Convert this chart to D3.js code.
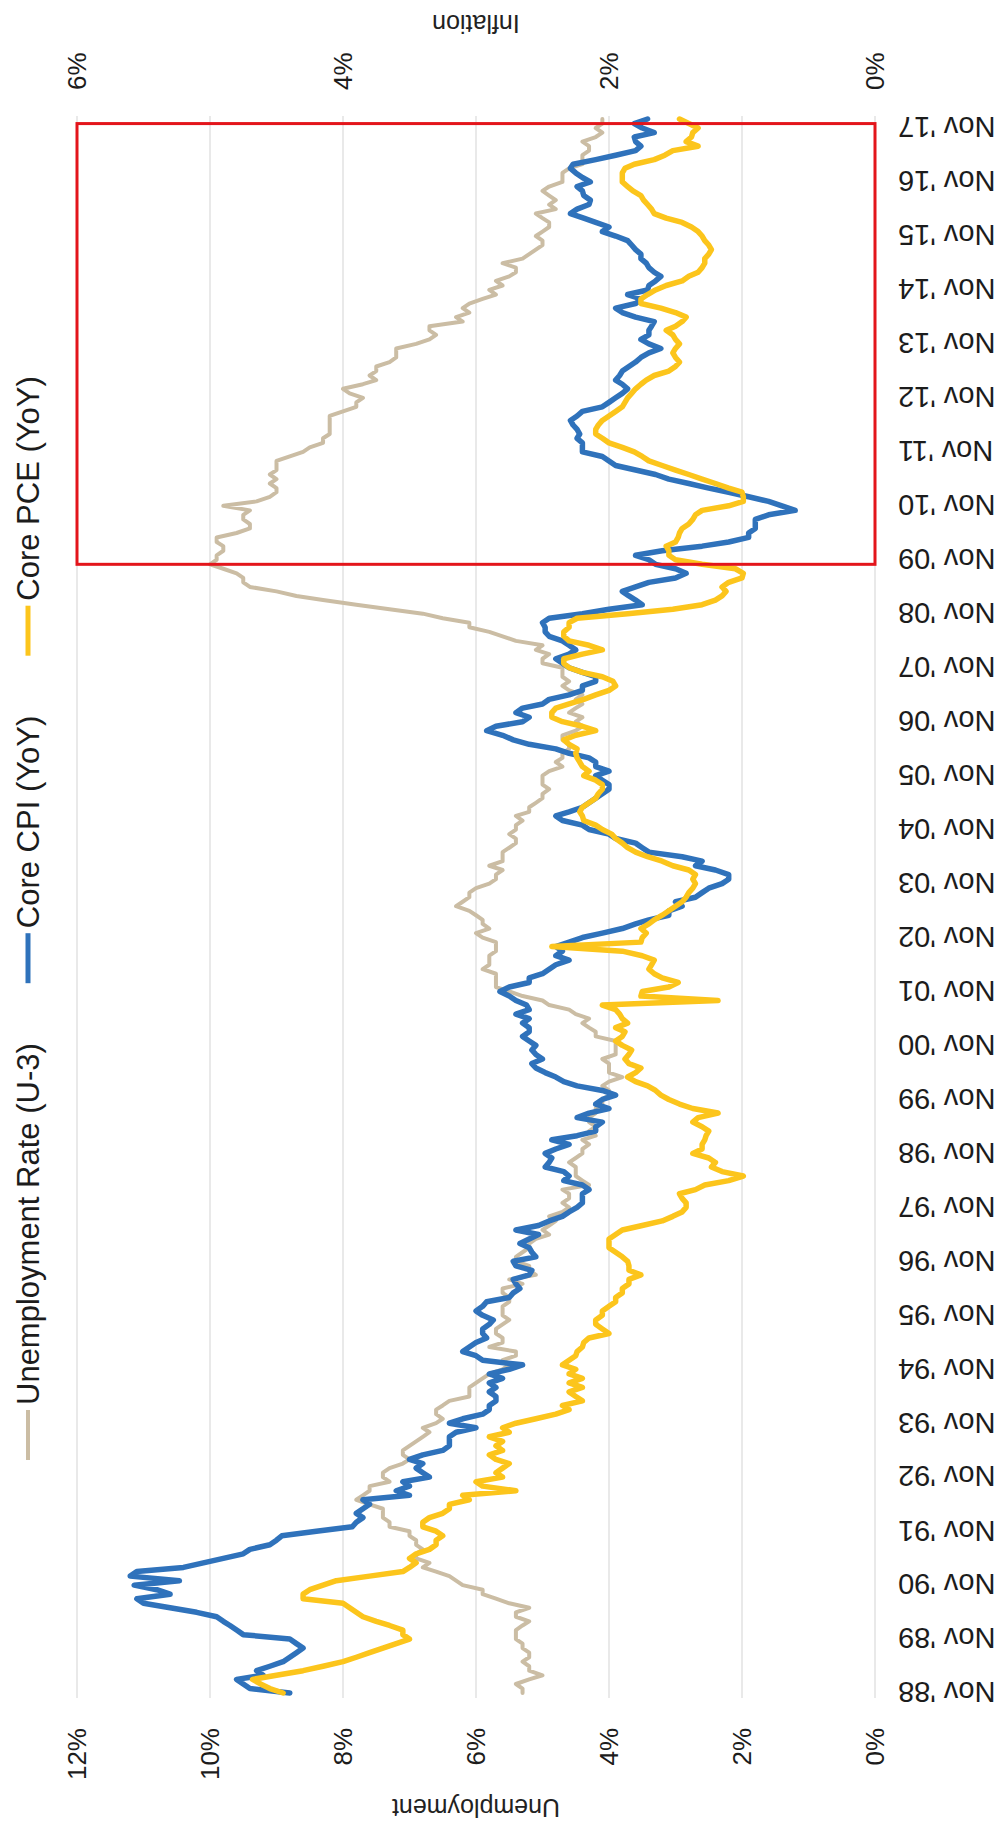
<!DOCTYPE html>
<html>
<head>
<meta charset="utf-8">
<script src="https://cdn.jsdelivr.net/npm/d3@7"></script>
<style>
  html, body { margin: 0; padding: 0; background: #fff; }
  svg { display: block; font-family: "Liberation Sans", Arial, Helvetica, sans-serif; }
</style>
</head>
<body>
<div id="chart"></div>
<script>
// monthly values, first point Nov 1988, last point Jan 2018
const firstMonth = new Date(1988, 10, 1);

const unemployment = [
  5.3, 5.3,
  5.4, 5.2, 5.0, 5.2, 5.2, 5.3, 5.2, 5.2, 5.3, 5.3, 5.4, 5.4,
  5.4, 5.3, 5.2, 5.4, 5.4, 5.2, 5.5, 5.7, 5.9, 5.9, 6.2, 6.3,
  6.4, 6.6, 6.8, 6.7, 6.9, 6.9, 6.8, 6.9, 6.9, 7.0, 7.0, 7.3,
  7.3, 7.4, 7.4, 7.4, 7.6, 7.8, 7.7, 7.6, 7.6, 7.3, 7.4, 7.4,
  7.3, 7.1, 7.0, 7.1, 7.1, 7.0, 6.9, 6.8, 6.7, 6.8, 6.6, 6.5,
  6.6, 6.6, 6.5, 6.4, 6.1, 6.1, 6.1, 6.0, 5.9, 5.8, 5.6, 5.5,
  5.6, 5.4, 5.4, 5.8, 5.6, 5.6, 5.7, 5.7, 5.6, 5.5, 5.6, 5.6,
  5.6, 5.5, 5.5, 5.6, 5.6, 5.3, 5.5, 5.1, 5.2, 5.2, 5.4, 5.4,
  5.3, 5.2, 5.2, 5.1, 4.9, 5.0, 4.9, 4.8, 4.9, 4.7, 4.6, 4.7,
  4.6, 4.6, 4.7, 4.3, 4.4, 4.5, 4.5, 4.5, 4.6, 4.5, 4.4, 4.4,
  4.3, 4.4, 4.2, 4.3, 4.2, 4.3, 4.3, 4.2, 4.2, 4.1, 4.1, 4.0,
  4.0, 4.1, 4.0, 3.8, 4.0, 4.0, 4.0, 4.1, 3.9, 3.9, 3.9, 3.9,
  4.2, 4.2, 4.3, 4.4, 4.3, 4.5, 4.6, 4.9, 5.0, 5.3, 5.5, 5.7,
  5.7, 5.7, 5.7, 5.9, 5.8, 5.8, 5.8, 5.7, 5.7, 5.7, 5.9, 6.0,
  5.8, 5.9, 5.9, 6.0, 6.1, 6.3, 6.2, 6.1, 6.1, 6.0, 5.8, 5.7,
  5.7, 5.6, 5.8, 5.6, 5.6, 5.6, 5.5, 5.4, 5.4, 5.5, 5.4, 5.4,
  5.3, 5.4, 5.2, 5.2, 5.1, 5.0, 5.0, 4.9, 5.0, 5.0, 5.0, 4.9,
  4.7, 4.8, 4.7, 4.7, 4.6, 4.6, 4.7, 4.7, 4.5, 4.4, 4.5, 4.4,
  4.6, 4.5, 4.4, 4.5, 4.4, 4.6, 4.7, 4.6, 4.7, 4.7, 4.7, 5.0,
  5.0, 4.9, 5.1, 5.0, 5.4, 5.6, 5.8, 6.1, 6.1, 6.5, 6.8, 7.3,
  7.8, 8.3, 8.7, 9.0, 9.4, 9.5, 9.5, 9.6, 9.8, 10.0, 9.9, 9.9,
  9.8, 9.8, 9.9, 9.9, 9.6, 9.4, 9.4, 9.5, 9.5, 9.4, 9.8, 9.3,
  9.1, 9.0, 9.0, 9.1, 9.0, 9.1, 9.0, 9.0, 9.0, 8.8, 8.6, 8.5,
  8.3, 8.3, 8.2, 8.2, 8.2, 8.2, 8.2, 8.0, 7.8, 7.8, 7.7, 7.9,
  8.0, 7.7, 7.5, 7.6, 7.5, 7.5, 7.3, 7.2, 7.2, 7.2, 6.9, 6.7,
  6.6, 6.7, 6.7, 6.2, 6.3, 6.1, 6.2, 6.1, 5.9, 5.7, 5.8, 5.6,
  5.7, 5.5, 5.4, 5.4, 5.6, 5.3, 5.2, 5.1, 5.0, 5.0, 5.1, 5.0,
  4.9, 4.9, 5.0, 5.1, 4.8, 4.9, 4.8, 4.9, 5.0, 4.9, 4.7, 4.7,
  4.7, 4.6, 4.4, 4.4, 4.4, 4.3, 4.3, 4.4, 4.2, 4.1, 4.2, 4.1,
  4.1
];

const coreCpi = [
  4.4, 4.7,
  4.75, 4.8, 4.6, 4.65, 4.55, 4.45, 4.4, 4.35, 4.3, 4.35, 4.4, 4.75,
  4.8, 4.85, 4.9, 4.95, 5.1, 5.3, 5.5, 5.55, 5.3, 5.4, 5.57, 5.23,
  5.6, 5.55, 5.2, 5.05, 4.9, 4.75, 4.7, 4.55, 4.5, 4.46, 4.2, 3.93,
  3.9, 3.85, 3.9, 3.85, 3.8, 3.85, 3.5, 3.6, 3.5, 3.55, 3.35, 3.4,
  3.45, 3.4, 3.5, 3.4, 3.25, 3.2, 3.2, 3.2, 3.15, 3.0, 3.2, 3.1,
  2.95, 2.9, 2.9, 2.85, 2.85, 2.9, 2.85, 2.9, 2.8, 2.9, 2.75, 2.65,
  2.95, 3.0, 3.1, 3.05, 3.0, 2.92, 2.95, 2.95, 2.9, 2.87, 2.95, 3.0,
  2.95, 2.92, 2.75, 2.72, 2.67, 2.7, 2.72, 2.6, 2.58, 2.7, 2.72, 2.55,
  2.58, 2.6, 2.67, 2.6, 2.53, 2.7, 2.53, 2.45, 2.35, 2.3, 2.24, 2.2,
  2.2, 2.2, 2.15, 2.2, 2.34, 2.3, 2.34, 2.48, 2.45, 2.43, 2.48, 2.4,
  2.3, 2.43, 2.24, 2.1, 2.1, 2.05, 2.24, 2.15, 2.0, 2.1, 2.05, 1.95,
  2.05, 2.24, 2.34, 2.4, 2.48, 2.55, 2.58, 2.5, 2.55, 2.58, 2.55, 2.6,
  2.65, 2.6, 2.6, 2.65, 2.6, 2.7, 2.6, 2.62, 2.7, 2.75, 2.82, 2.75,
  2.6, 2.6, 2.5, 2.45, 2.4, 2.3, 2.4, 2.35, 2.4, 2.3, 2.2, 2.05,
  1.9, 1.8, 1.7, 1.55, 1.55, 1.45, 1.5, 1.35, 1.3, 1.25, 1.15, 1.1,
  1.1, 1.2, 1.35, 1.3, 1.45, 1.7, 1.75, 1.8, 1.95, 2.0, 2.15, 2.2,
  2.35, 2.4, 2.3, 2.2, 2.15, 2.1, 2.05, 2.0, 2.0, 2.05, 2.1, 2.0,
  2.1, 2.1, 2.15, 2.3, 2.4, 2.6, 2.72, 2.8, 2.92, 2.85, 2.65, 2.6,
  2.7, 2.65, 2.5, 2.45, 2.3, 2.2, 2.2, 2.1, 2.1, 2.2, 2.3, 2.35,
  2.4, 2.3, 2.25, 2.3, 2.35, 2.45, 2.48, 2.48, 2.5, 2.45, 2.2, 2.0,
  1.75, 1.8, 1.85, 1.9, 1.8, 1.7, 1.5, 1.42, 1.5, 1.65, 1.7, 1.8,
  1.6, 1.3, 1.1, 0.95, 0.95, 0.9, 0.9, 0.9, 0.8, 0.6, 0.7, 0.8,
  0.95, 1.1, 1.25, 1.4, 1.55, 1.65, 1.8, 1.95, 2.0, 2.05, 2.2, 2.2,
  2.2, 2.24, 2.22, 2.24, 2.27, 2.29, 2.24, 2.2, 2.05, 2.0, 1.95, 1.9,
  1.86, 1.9, 1.95, 1.92, 1.9, 1.85, 1.8, 1.76, 1.7, 1.61, 1.7, 1.76,
  1.7, 1.7, 1.68, 1.66, 1.8, 1.9, 1.95, 1.8, 1.76, 1.86, 1.71, 1.7,
  1.65, 1.61, 1.66, 1.7, 1.72, 1.76, 1.76, 1.8, 1.83, 1.86, 1.95, 2.05,
  2.0, 2.1, 2.19, 2.29, 2.24, 2.15, 2.14, 2.19, 2.2, 2.24, 2.14, 2.2,
  2.25, 2.29, 2.27, 2.1, 1.95, 1.8, 1.76, 1.8, 1.81, 1.66, 1.75, 1.81,
  1.71
];

const corePce = [
  4.45, 4.55,
  4.62, 4.68, 4.5, 4.3, 4.15, 4.0, 3.9, 3.8, 3.7, 3.6, 3.5, 3.55,
  3.55, 3.65, 3.75, 3.85, 3.9, 3.95, 4.0, 4.3, 4.3, 4.25, 4.15, 4.05,
  3.8, 3.55, 3.5, 3.45, 3.5, 3.45, 3.35, 3.3, 3.3, 3.25, 3.3, 3.4,
  3.4, 3.35, 3.25, 3.2, 3.2, 3.05, 3.1, 2.7, 2.95, 3.0, 2.8, 2.85,
  2.8, 2.75, 2.85, 2.9, 2.8, 2.85, 2.8, 2.9, 2.75, 2.8, 2.7, 2.55,
  2.4, 2.3, 2.35, 2.2, 2.25, 2.3, 2.2, 2.3, 2.2, 2.3, 2.25, 2.35,
  2.3, 2.25, 2.24, 2.2, 2.19, 2.15, 2.0, 2.05, 2.1, 2.1, 2.05, 2.05,
  2.0, 1.95, 1.95, 1.9, 1.9, 1.85, 1.85, 1.76, 1.85, 1.85, 1.86, 1.9,
  1.95, 2.0, 2.0, 2.0, 1.95, 1.9, 1.75, 1.6, 1.52, 1.45, 1.42, 1.42,
  1.45, 1.47, 1.35, 1.28, 1.1, 0.99, 1.15, 1.23, 1.2, 1.25, 1.37, 1.3,
  1.3, 1.28, 1.27, 1.25, 1.3, 1.37, 1.33, 1.18, 1.37, 1.47, 1.55, 1.61,
  1.65, 1.71, 1.8, 1.86, 1.8, 1.76, 1.85, 1.88, 1.85, 1.83, 1.9, 1.95,
  1.9, 1.88, 1.95, 1.86, 1.9, 1.92, 1.95, 2.05, 1.18, 1.76, 1.75, 1.55,
  1.48, 1.6, 1.66, 1.7, 1.68, 1.66, 1.75, 1.9, 2.43, 1.76, 1.75, 1.72,
  1.76, 1.7, 1.66, 1.6, 1.55, 1.5, 1.45, 1.42, 1.4, 1.37, 1.35, 1.37,
  1.35, 1.4, 1.52, 1.6, 1.71, 1.8, 1.86, 1.9, 1.95, 1.98, 2.05, 2.1,
  2.19, 2.2, 2.22, 2.2, 2.15, 2.1, 2.08, 2.05, 2.05, 2.1, 2.19, 2.15,
  2.2, 2.22, 2.24, 2.25, 2.24, 2.3, 2.34, 2.25, 2.1, 2.2, 2.35, 2.43,
  2.43, 2.4, 2.3, 2.19, 2.1, 2.0, 1.95, 1.97, 2.05, 2.2, 2.3, 2.34,
  2.34, 2.2, 2.05, 2.15, 2.3, 2.34, 2.34, 2.3, 2.3, 2.24, 1.86, 1.52,
  1.3, 1.2, 1.15, 1.12, 1.15, 1.1, 1.0, 0.99, 1.05, 1.3, 1.5, 1.55,
  1.55, 1.57, 1.5, 1.48, 1.47, 1.45, 1.4, 1.37, 1.35, 1.3, 1.1, 0.99,
  0.99, 1.0, 1.1, 1.2, 1.3, 1.4, 1.5, 1.6, 1.7, 1.75, 1.81, 1.9,
  2.0, 2.05, 2.1, 2.1, 2.08, 2.05, 2.0, 1.95, 1.9, 1.88, 1.86, 1.83,
  1.8, 1.76, 1.72, 1.66, 1.55, 1.5, 1.47, 1.5, 1.52, 1.5, 1.47, 1.5,
  1.52, 1.57, 1.5, 1.45, 1.42, 1.5, 1.61, 1.76, 1.76, 1.71, 1.65, 1.57,
  1.45, 1.4, 1.33, 1.3, 1.28, 1.28, 1.25, 1.23, 1.25, 1.28, 1.3, 1.33,
  1.38, 1.45, 1.57, 1.66, 1.68, 1.71, 1.74, 1.76, 1.82, 1.86, 1.9, 1.9,
  1.9, 1.88, 1.81, 1.66, 1.58, 1.52, 1.33, 1.42, 1.38, 1.37, 1.33, 1.4,
  1.47
];

const seriesNames = ["Unemployment Rate (U-3)", "Core CPI (YoY)", "Core PCE (YoY)"];
const seriesColors = ["#cbbda4", "#2f72bb", "#fcc51c"];
const tickYears = [1988, 1989, 1990, 1991, 1992, 1993, 1994, 1995, 1996, 1997,
  1998, 1999, 2000, 2001, 2002, 2003, 2004, 2005, 2006, 2007,
  2008, 2009, 2010, 2011, 2012, 2013, 2014, 2015, 2016, 2017];
const unempTicks = [0, 2, 4, 6, 8, 10, 12];
const inflTicks = [0, 2, 4, 6];
const highlightRange = [new Date(2009, 9, 1), new Date(2017, 11, 1)];

// the chart is laid out landscape and then turned a quarter turn
const W = 1832, H = 1005;
const plot = { left: 134, right: 1716, top: 77, bottom: 875 };

const svg = d3.select("#chart").append("svg")
  .attr("width", H)
  .attr("height", W);

svg.append("rect").attr("width", H).attr("height", W).attr("fill", "#fff");

const g = svg.append("g")
  .attr("transform", `translate(0,${W}) rotate(-90)`);

const monthDate = i => d3.timeMonth.offset(firstMonth, i);

const x = d3.scaleTime()
  .domain([firstMonth, monthDate(unemployment.length - 1)])
  .range([139, 1713]);
const yL = d3.scaleLinear().domain([0, 12]).range([plot.bottom, plot.top]);
const yR = d3.scaleLinear().domain([0, 6]).range([plot.bottom, plot.top]);

// gridlines
g.append("g").selectAll("line")
  .data(unempTicks)
  .join("line")
  .attr("x1", plot.left).attr("x2", plot.right)
  .attr("y1", d => yL(d)).attr("y2", d => yL(d))
  .attr("stroke", "#dedede")
  .attr("stroke-width", 1.3);

// left axis
const leftAxis = g.append("g")
  .attr("transform", `translate(${plot.left},0)`)
  .call(d3.axisLeft(yL).tickValues(unempTicks).tickSize(0).tickPadding(30).tickFormat(d => d + "%"));
leftAxis.select(".domain").remove();
leftAxis.selectAll("text").attr("font-size", 26).attr("fill", "#1c1c1c");

// right axis
const rightAxis = g.append("g")
  .attr("transform", `translate(${plot.right},0)`)
  .call(d3.axisRight(yR).tickValues(inflTicks).tickSize(0).tickPadding(26).tickFormat(d => d + "%"));
rightAxis.select(".domain").remove();
rightAxis.selectAll("text").attr("font-size", 26).attr("fill", "#1c1c1c");

// time axis, labels turned
const timeAxis = g.append("g")
  .attr("transform", `translate(0,${plot.bottom})`)
  .call(d3.axisBottom(x)
    .tickValues(tickYears.map(yr => new Date(yr, 10, 1)))
    .tickSize(0)
    .tickFormat(d => "Nov '" + String(d.getFullYear()).slice(2)));
timeAxis.select(".domain").remove();
timeAxis.selectAll("text")
  .attr("transform", "rotate(-90)")
  .attr("text-anchor", "end")
  .attr("x", -23)
  .attr("y", 0)
  .attr("dy", "0.35em")
  .attr("font-size", 29)
  .attr("fill", "#1c1c1c");

// axis titles
g.append("text")
  .attr("transform", `translate(24,${(plot.top + plot.bottom) / 2}) rotate(-90)`)
  .attr("text-anchor", "middle")
  .attr("dy", "0.35em")
  .attr("font-size", 25)
  .attr("fill", "#222")
  .text("Unemployment");

g.append("text")
  .attr("transform", `translate(1808,${(plot.top + plot.bottom) / 2}) rotate(-90)`)
  .attr("text-anchor", "middle")
  .attr("dy", "0.35em")
  .attr("font-size", 25)
  .attr("fill", "#222")
  .text("Inflation");

// lines
const lineL = d3.line().x((d, i) => x(monthDate(i))).y(d => yL(d));
const lineR = d3.line().x((d, i) => x(monthDate(i))).y(d => yR(d));

const series = [
  { values: unemployment, line: lineL, width: 4 },
  { values: coreCpi, line: lineR, width: 5.5 },
  { values: corePce, line: lineR, width: 5.5 }
];

g.append("g").selectAll("path")
  .data(series)
  .join("path")
  .attr("d", s => s.line(s.values))
  .attr("fill", "none")
  .attr("stroke", (s, i) => seriesColors[i])
  .attr("stroke-width", s => s.width)
  .attr("stroke-linejoin", "round")
  .attr("stroke-linecap", "round");

// highlight box
g.append("rect")
  .attr("x", x(highlightRange[0]))
  .attr("y", plot.top)
  .attr("width", x(highlightRange[1]) - x(highlightRange[0]))
  .attr("height", plot.bottom - plot.top)
  .attr("fill", "none")
  .attr("stroke", "#e3151b")
  .attr("stroke-width", 3);

// legend across the top
const legend = g.append("g").attr("transform", "translate(0,28)");
let cursor = 372;
seriesNames.forEach((name, i) => {
  const item = legend.append("g");
  item.append("line")
    .attr("x1", cursor).attr("x2", cursor + 50)
    .attr("stroke", seriesColors[i])
    .attr("stroke-width", i === 0 ? 4 : 5);
  const t = item.append("text")
    .attr("x", cursor + 55)
    .attr("dy", "0.35em")
    .attr("font-size", 31)
    .attr("fill", "#1c1c1c")
    .text(name);
  cursor += 55 + t.node().getComputedTextLength() + 60;
});
</script>
</body>
</html>
